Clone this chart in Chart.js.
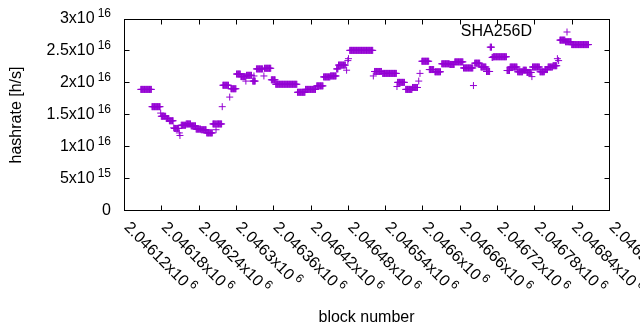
<!DOCTYPE html>
<html>
<head>
<meta charset="UTF-8">
<title>SHA256D hashrate</title>
<script src="https://cdn.jsdelivr.net/npm/chart.js"></script>
<style>
  body { margin: 0; background: #fff; }
  #wrap { width: 640px; height: 330px; }
</style>
</head>
<body>
<div id="wrap"><canvas id="hashChart" width="640" height="330"></canvas></div>
<script>
// runs of blocks with the same estimated hashrate (x10^16 h/s)
const runFirst = [2046147, 2046165, 2046179, 2046180, 2046188, 2046193, 2046200, 2046201, 2046209, 2046210,
  2046212, 2046220, 2046228, 2046236, 2046244, 2046253, 2046263, 2046268, 2046269, 2046278,
  2046279, 2046290, 2046292, 2046301, 2046308, 2046316, 2046317, 2046327, 2046329, 2046333,
  2046345, 2046346, 2046357, 2046364, 2046399, 2046412, 2046430, 2046441, 2046452, 2046462,
  2046465, 2046478, 2046480, 2046481, 2046483, 2046521, 2046523, 2046536, 2046559, 2046560,
  2046573, 2046584, 2046594, 2046596, 2046599, 2046611, 2046620, 2046631, 2046644, 2046652,
  2046666, 2046682, 2046684, 2046694, 2046703, 2046709, 2046712, 2046714, 2046736, 2046741,
  2046753, 2046762, 2046768, 2046776, 2046777, 2046789, 2046797, 2046802, 2046810, 2046817,
  2046819, 2046821, 2046830, 2046840];
const runLast = [2046164, 2046178, 2046179, 2046187, 2046192, 2046199, 2046200, 2046208, 2046209, 2046210,
  2046219, 2046227, 2046235, 2046243, 2046252, 2046262, 2046267, 2046268, 2046277, 2046278,
  2046288, 2046290, 2046300, 2046307, 2046315, 2046316, 2046325, 2046331, 2046329, 2046343,
  2046345, 2046356, 2046363, 2046398, 2046411, 2046428, 2046440, 2046451, 2046461, 2046464,
  2046476, 2046478, 2046480, 2046481, 2046520, 2046521, 2046534, 2046558, 2046559, 2046571,
  2046583, 2046592, 2046594, 2046596, 2046610, 2046618, 2046629, 2046643, 2046651, 2046665,
  2046681, 2046682, 2046692, 2046702, 2046708, 2046711, 2046713, 2046735, 2046740, 2046752,
  2046761, 2046767, 2046775, 2046776, 2046788, 2046796, 2046801, 2046809, 2046816, 2046817,
  2046819, 2046829, 2046839, 2046867];
const runHash = [1.90, 1.63, 1.53, 1.48, 1.445, 1.41, 1.30, 1.29, 1.22, 1.18,
  1.34, 1.36, 1.33, 1.28, 1.27, 1.22, 1.36, 1.27, 1.36, 1.63,
  1.965, 1.78, 1.91, 2.14, 2.10, 2.03, 2.12, 2.03, 2.11, 2.22,
  2.11, 2.23, 2.05, 1.98, 1.855, 1.90, 1.955, 2.095, 2.11, 2.22,
  2.28, 2.20, 2.35, 2.38, 2.51, 2.11, 2.18, 2.15, 1.945, 2.01,
  1.90, 1.93, 2.03, 2.15, 2.34, 2.21, 2.175, 2.30, 2.29, 2.33,
  2.235, 1.96, 2.31, 2.25, 2.18, 2.56, 2.40, 2.41, 2.195, 2.25,
  2.175, 2.20, 2.165, 2.10, 2.25, 2.175, 2.21, 2.25, 2.27, 2.38,
  2.35, 2.67, 2.645, 2.60];

const xTickMant = ['2.04612', '2.04618', '2.04624', '2.0463', '2.04636', '2.04642', '2.04648',
  '2.04654', '2.0466', '2.04666', '2.04672', '2.04678', '2.04684', '2.0469'];
const xTickExp = '6';
const yTickMant = ['0', '5x10', '1x10', '1.5x10', '2x10', '2.5x10', '3x10'];
const yTickExp = ['', '15', '16', '16', '16', '16', '16'];

const points = [];
runFirst.forEach((first, i) => {
  for (let b = first; b <= runLast[i]; b++) points.push({ x: b, y: runHash[i] });
});

const FONT = '"Liberation Sans", Arial, sans-serif';
const PURPLE = '#9400d3';

const gnuplotFrame = {
  id: 'gnuplotFrame',
  afterDraw(chart) {
    const { ctx, chartArea: a, scales: { x, y } } = chart;
    const L = a.left + 0.5, R = a.right + 0.5, T = a.top + 0.5, B = a.bottom - 0.5;
    ctx.save();
    ctx.strokeStyle = '#000';
    ctx.lineWidth = 1;
    ctx.strokeRect(L, T, R - L, B - T);
    ctx.beginPath();
    x.ticks.forEach(t => {
      const px = Math.round(x.getPixelForValue(t.value)) + 0.5;
      if (px <= L + 1 || px >= R - 1) return;
      ctx.moveTo(px, B); ctx.lineTo(px, B - 5);
      ctx.moveTo(px, T); ctx.lineTo(px, T + 5);
    });
    y.ticks.forEach(t => {
      const py = Math.round(y.getPixelForValue(t.value)) - 0.5;
      if (py <= T + 1 || py >= B - 1) return;
      ctx.moveTo(L, py); ctx.lineTo(L + 5, py);
      ctx.moveTo(R, py); ctx.lineTo(R - 5, py);
    });
    ctx.stroke();

    ctx.fillStyle = '#000';
    ctx.textBaseline = 'middle';
    // y tick labels
    y.ticks.forEach((t, i) => {
      const py = y.getPixelForValue(t.value);
      ctx.font = '16px ' + FONT;
      const wm = ctx.measureText(yTickMant[i]).width;
      ctx.font = '12px ' + FONT;
      const we = yTickExp[i] ? ctx.measureText(yTickExp[i]).width + 3 : 0;
      const x0 = 111 - wm - we;
      ctx.textAlign = 'left';
      ctx.font = '16px ' + FONT;
      ctx.fillText(yTickMant[i], x0, py);
      if (yTickExp[i]) {
        ctx.font = '12px ' + FONT;
        ctx.fillText(yTickExp[i], x0 + wm + 3, py - 5);
      }
    });
    // x tick labels, rotated
    x.ticks.forEach((t, i) => {
      const px = x.getPixelForValue(t.value);
      ctx.save();
      ctx.translate(px + 2.5, a.bottom + 14);
      ctx.rotate(Math.PI / 4);
      ctx.textAlign = 'left';
      ctx.font = '16px ' + FONT;
      const label = xTickMant[i] + 'x10';
      const wm = ctx.measureText(label).width;
      ctx.fillText(label, 0, 0);
      ctx.font = '12px ' + FONT;
      ctx.fillText(xTickExp, wm + 3, -5);
      ctx.restore();
    });
    // axis titles
    ctx.font = '16px ' + FONT;
    ctx.textAlign = 'center';
    ctx.fillText('block number', (a.left + a.right) / 2, 318);
    ctx.save();
    ctx.translate(17, (a.top + a.bottom) / 2);
    ctx.rotate(-Math.PI / 2);
    ctx.fillText('hashrate [h/s]', 0, 0);
    ctx.restore();
    // key
    ctx.textAlign = 'right';
    ctx.fillText(chart.data.datasets[0].label, 532, 32);
    ctx.strokeStyle = PURPLE;
    ctx.beginPath();
    ctx.moveTo(563.5, 32); ctx.lineTo(570.5, 32);
    ctx.moveTo(567, 28.5); ctx.lineTo(567, 35.5);
    ctx.stroke();
    ctx.restore();
  }
};

new Chart(document.getElementById('hashChart').getContext('2d'), {
  type: 'scatter',
  data: {
    datasets: [{
      label: 'SHA256D',
      data: points,
      pointStyle: 'cross',
      pointRadius: 3.5,
      pointHoverRadius: 3.5,
      borderWidth: 1,
      borderColor: PURPLE,
      backgroundColor: PURPLE
    }]
  },
  options: {
    responsive: false,
    animation: false,
    devicePixelRatio: 1,
    events: [],
    layout: { padding: { left: 124, right: 31, top: 19, bottom: 119 } },
    plugins: { legend: { display: false }, tooltip: { enabled: false } },
    scales: {
      x: {
        type: 'linear', min: 2046120, max: 2046900,
        ticks: { stepSize: 60, display: false },
        grid: { display: false, drawTicks: false },
        border: { display: false }
      },
      y: {
        min: 0, max: 3,
        ticks: { stepSize: 0.5, display: false },
        grid: { display: false, drawTicks: false },
        border: { display: false }
      }
    }
  },
  plugins: [gnuplotFrame]
});
</script>
</body>
</html>
